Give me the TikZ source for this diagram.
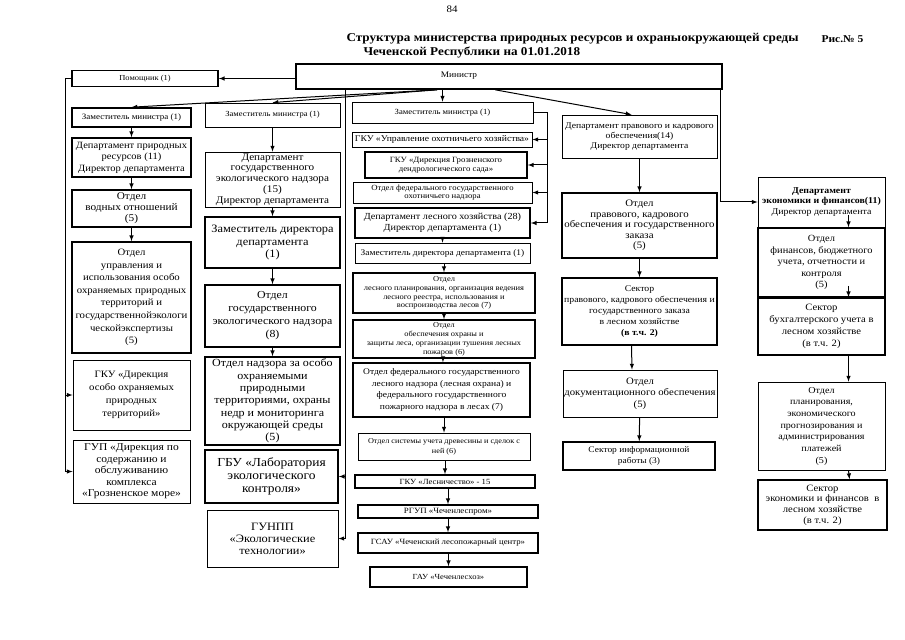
\documentclass[tikz,border=0pt]{standalone}
\usepackage{fontspec}
\setmainfont{Liberation Serif}[FakeStretch=1.1]
\usetikzlibrary{calc}

\begin{document}
\begin{tikzpicture}[x=1bp, y=-1bp,
    box/.style={draw, line width=0.8bp, align=center, inner sep=0bp, fill=white},
    thk/.style={line width=1.6bp},
    sz/.style 2 args={minimum width=#1bp, minimum height=#2bp},
    fs/.style 2 args={font=\fontsize{#1}{#2}\selectfont},
    arr/.style={line width=1bp, ->, >=latex}]
    \useasboundingbox (0,0) rectangle (905,640);

    % header
    \node[fs={10}{12}] (page) at (452,9) {84};
    \node[fs={12}{14}, anchor=west] (title) at (343,39) {\bfseries Структура министерства природных ресурсов и охраныокружающей среды};
    \node[fs={10.5}{12}, anchor=west] (fig) at (818,39) {\bfseries Рис.№ 5};
    \node[fs={12}{14}, anchor=west] (title2) at (360,53) {\bfseries Чеченской Республики на 01.01.2018};

    \node[box, thk, sz={426}{25}] (min) at (509,76.5) {};
    \node[fs={8.5}{10}] (mintxt) at (459,75.5) {Министр};
    \node[box, thk, sz={146}{16}, fs={7.7}{9}] (pom) at (145,78.5) {Помощник (1)};

    % column 1
    \node[box, thk, sz={119}{19}, fs={8.2}{9}] (z1) at (131.5,117.5) {Заместитель министра (1)};
    \node[box, thk, sz={119}{39}, fs={9.6}{11.5}] (d1) at (131.5,157.5) {Департамент природных\\ресурсов (11)\\Директор департамента};
    \node[box, thk, sz={119}{37}, fs={10.3}{11}] (o1) at (131.5,208.5) {Отдел\\водных отношений\\(5)};
    \node[box, thk, sz={119}{111}, fs={9.8}{12.6}] (o2) at (131.5,297.5) {Отдел\\управления и\\использования особо\\охраняемых природных\\территорий и\\государственнойэкологи\\ческойэкспертизы\\(5)};
    \node[box, sz={117}{70}, fs={9.8}{13}] (g1) at (131.5,395) {ГКУ «Дирекция\\особо охраняемых\\природных\\территорий»};
    \node[box, sz={117}{63}, fs={10.5}{11.5}] (g2) at (131.5,471.5) {ГУП «Дирекция по\\содержанию и\\обслуживанию\\комплекса\\«Грозненское море»};

    % column 2
    \node[box, sz={135}{24}, fs={7.8}{9}] (z2) at (272.5,115) {Заместитель министра (1)};
    \node[box, sz={135}{55}, fs={10.2}{10.8}] (d2) at (272.5,179.5) {Департамент\\государственного\\экологического надзора\\(15)\\Директор департамента};
    \node[box, thk, sz={135}{51}, fs={11.3}{12.3}] (zd2) at (272.5,242.5) {Заместитель директора\\департамента\\(1)};
    \node[box, thk, sz={135}{62}, fs={10.8}{13}] (o3) at (272.5,316) {Отдел\\государственного\\экологического надзора\\(8)};
    \node[box, thk, sz={135}{88}, fs={11}{12.4}] (o4) at (272.5,401) {Отдел надзора за особо\\охраняемыми\\природными\\территориями, охраны\\недр и мониторинга\\окружающей среды\\(5)};
    \node[box, thk, sz={133}{53}, fs={12.3}{13.2}] (gbu) at (271.5,476.5) {ГБУ «Лаборатория\\экологического\\контроля»};
    \node[box, sz={131}{57}, fs={11.3}{12}] (gunpp) at (272.5,538.5) {ГУНПП\\«Экологические\\технологии»};

    % column 3
    \node[box, sz={181}{21}, fs={7.9}{9}] (z3) at (442.5,112.5) {Заместитель министра (1)};
    \node[box, sz={180}{15}, fs={8.8}{9}] (k1) at (442,139.5) {ГКУ «Управление охотничьего хозяйства»};
    \node[box, thk, sz={162}{26}, fs={8}{9.5}] (k2) at (446,165) {ГКУ «Дирекция Грозненского\\дендрологического сада»};
    \node[box, sz={179}{21}, fs={7.9}{8.8}] (k3) at (442.5,192.5) {Отдел федерального государственного\\охотничьего надзора};
    \node[box, thk, sz={175}{30}, fs={9.3}{11.5}] (dl) at (442.5,223) {Департамент лесного хозяйства (28)\\Директор департамента (1)};
    \node[box, sz={175}{20}, fs={8.6}{10}] (zdl) at (442.5,253) {Заместитель директора департамента (1)};
    \node[box, thk, sz={182}{40}, fs={7.7}{8.7}] (ol1) at (444,293) {Отдел\\лесного планирования, организация ведения\\лесного реестра, использования и\\воспроизводства лесов (7)};
    \node[box, thk, sz={182}{38}, fs={7.6}{8.9}] (ol2) at (444,339) {Отдел\\обеспечения охраны и\\защиты леса, организации тушения лесных\\пожаров (6)};
    \node[box, thk, sz={177}{54}, fs={8.7}{11.8}] (ol3) at (441.5,390) {Отдел федерального государственного\\лесного надзора (лесная охрана) и\\федерального государственного\\пожарного надзора в лесах (7)};
    \node[box, sz={172}{27}, fs={7.5}{10}] (ol4) at (444,446.5) {Отдел системы учета древесины и сделок с\\ней (6)};
    \node[box, thk, sz={180}{13}, fs={7.9}{9}] (les) at (445,481.5) {ГКУ «Лесничество» - 15};
    \node[box, thk, sz={180}{13}, fs={8.1}{9}] (rgup) at (448,511.5) {РГУП «Чеченлеспром»};
    \node[box, thk, sz={180}{20}, fs={8}{9}] (gsau) at (448,543) {ГСАУ «Чеченский лесопожарный центр»};
    \node[box, thk, sz={157}{20}, fs={7.8}{9}] (gau) at (448.5,577) {ГАУ «Чеченлесхоз»};

    % column 4
    \node[box, sz={155}{43}, fs={8.8}{10}] (dp) at (639.5,136.5) {Департамент правового и кадрового\\обеспечения(14)\\Директор департамента};
    \node[box, thk, sz={155}{65}, fs={9.9}{10.6}] (op) at (639.5,225.5) {Отдел\\правового, кадрового\\обеспечения и государственного\\заказа\\(5)};
    \node[box, thk, sz={155}{67}, fs={8.9}{11}] (sp) at (639.5,311.5) {Сектор\\правового, кадрового обеспечения и\\государственного заказа\\в лесном хозяйстве\\\textbf{(в т.ч. 2)}};
    \node[box, sz={154}{47}, fs={9.8}{11.7}] (od) at (640,393.5) {Отдел\\документационного обеспечения\\(5)};
    \node[box, thk, sz={152}{28}, fs={8.6}{11}] (si) at (639,456) {Сектор информационной\\работы (3)};

    % column 5
    \node[box, sz={127}{50}, fs={9}{11}] (de) at (821.5,202) {\textbf{Департамент}\\\textbf{экономики и финансов(11)}\\Директор департамента};
    \node[box, thk, sz={127}{69}, fs={9.5}{11.5}] (of) at (821.5,262.5) {Отдел\\финансов, бюджетного\\учета, отчетности и\\контроля\\(5)};
    \node[box, thk, sz={127}{57}, fs={9.7}{12}] (sb) at (821.5,326.5) {Сектор\\бухгалтерского учета в\\лесном хозяйстве\\(в т.ч. 2)};
    \node[box, sz={127}{88}, fs={9.2}{11.7}] (opl) at (821.5,426) {Отдел\\планирования,\\экономического\\прогнозирования и\\администрирования\\платежей\\(5)};
    \node[box, thk, sz={129}{50}, fs={9.7}{10.8}] (se) at (822.5,505) {Сектор\\экономики и финансов \ в\\лесном хозяйстве\\(в т.ч. 2)};

    % connectors from the minister
    \coordinate (mo) at ([xshift=142bp]min.south west);
    \draw[arr] (min.west |- pom.east) -- (pom.east);
    \draw[arr] (mo) -- (z1.north);
    \draw[arr] (mo) -- (z2.north);
    \draw[arr] (z3.north |- min.south) -- (z3.north);
    \draw[arr] ([xshift=200bp]min.south west) -- ([xshift=-8bp]dp.north);
    \draw[arr] ([xshift=-2bp]min.south east) |- (de.west);
    \draw[arr] ([xshift=50bp]min.south west) |- (gbu.east);
    \draw[arr] ([xshift=50bp]min.south west) |- (gunpp.east);
    \draw[arr] (pom.west) -- ++(-6,0) |- (g1.west);
    \draw[arr] (pom.west) -- ++(-6,0) |- (g2.west);

    % column 1
    \draw[arr] (z1) -- (d1);
    \draw[arr] (d1) -- (o1);
    \draw[arr] (o1) -- (o2);
    % column 2
    \draw[arr] (z2) -- (d2);
    \draw[arr] (d2) -- (zd2);
    \draw[arr] (zd2) -- (o3);
    \draw[arr] (o3) -- (o4);
    % column 3
    \coordinate (zr) at ($(z3.east)+(14,0)$);
    \draw (z3.east) -- (zr);
    \draw[arr] (zr) |- (k1.east);
    \draw[arr] (zr) |- (k2.east);
    \draw[arr] (zr) |- (k3.east);
    \draw[arr] (zr) |- (dl.east);
    \draw[arr] (dl.south -| zdl.north) -- (zdl.north);
    \draw[arr] (zdl.south -| ol1.north) -- (ol1.north);
    \draw[arr] (ol1) -- (ol2);
    \draw[arr] (ol2) -- (ol3);
    \draw[arr] (ol3.south -| ol4.north) -- (ol4.north);
    \draw[arr] (ol4.south -| les.north) -- (les.north);
    \draw[arr] (les.south -| rgup.north) -- (rgup.north);
    \draw[arr] (rgup.south -| gsau.north) -- (gsau.north);
    \draw[arr] (gsau.south -| gau.north) -- (gau.north);
    % column 4
    \draw[arr] (dp) -- (op);
    \draw[arr] (op) -- (sp);
    \draw[arr] ([xshift=-8bp]sp.south) -- ([xshift=-8bp]od.north);
    \draw[arr] (od) -- (si);
    % column 5
    \draw[arr] ($(de.south)+(27,-12)$) -- ($(of.north)+(27,0)$);
    \draw[arr] ($(of.south)+(27,-12)$) -- ($(sb.north)+(27,0)$);
    \draw[arr] ($(sb.south)+(27,0)$) -- ($(opl.north)+(27,0)$);
    \draw[arr] ($(opl.south)+(27,0)$) -- ($(se.north)+(27,0)$);
\end{tikzpicture}
\end{document}
